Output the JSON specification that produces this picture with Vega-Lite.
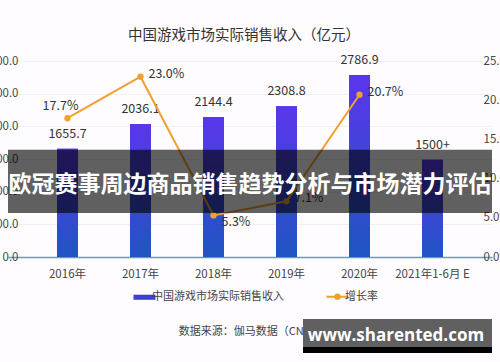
{
  "$schema": "https://vega.github.io/schema/vega-lite/v6.json",
  "width": 484,
  "height": 196,
  "autosize": {"type": "none"},
  "padding": {"left": 8, "top": 61, "right": 8, "bottom": 105},
  "background": "#fefcfe",
  "config": {"font": "Noto Sans CJK SC", "view": {"stroke": null}},
  "title": {"text": "中国游戏市场实际销售收入（亿元）", "fontSize": 14.5, "fontWeight": "normal", "color": "#333", "offset": 10, "dx": -6, "anchor": "middle", "font": "Noto Sans CJK SC"},
  "data": {"values": [
    {"year": "2016年", "revenue": 1655.7, "label": "1655.7", "growth": 0.177},
    {"year": "2017年", "revenue": 2036.1, "label": "2036.1", "growth": 0.23},
    {"year": "2018年", "revenue": 2144.4, "label": "2144.4", "growth": 0.053},
    {"year": "2019年", "revenue": 2308.8, "label": "2308.8", "growth": 0.071},
    {"year": "2020年", "revenue": 2786.9, "label": "2786.9", "growth": 0.207},
    {"year": "2021年1-6月 E", "revenue": 1490, "label": "1500+", "growth": null}
  ]},
  "encoding": {
    "x": {"field": "year", "type": "nominal", "sort": null,
      "scale": {"paddingInner": 0, "paddingOuter": 0.315},
      "axis": {"title": "数据来源：伽马数据（CNG）", "titleFontSize": 11, "titleFontWeight": "normal", "titleColor": "#444", "titlePadding": 46,
        "labelAngle": 0, "labelFontSize": 11.5, "labelColor": "#444", "labelPadding": 11, "ticks": false,
        "domainColor": "#6a9bb0", "domainWidth": 1.5}}
  },
  "layer": [
    {
      "encoding": {
        "y": {"field": "revenue", "type": "quantitative",
          "scale": {"domain": [0, 3000], "nice": false},
          "axis": {"orient": "left", "values": [0, 500, 1000, 1500, 2000, 2500, 3000], "format": ".1f", "title": null,
            "labelFontSize": 11.5, "labelColor": "#444", "labelPadding": -10, "labelAlign": "right", "ticks": false, "domain": false,
            "grid": true, "gridColor": "#f0f0f0"}}
      },
      "layer": [
        {"mark": {"type": "bar", "width": 21},
          "encoding": {"color": {"datum": "中国游戏市场实际销售收入", "type": "nominal",
            "scale": {"domain": ["中国游戏市场实际销售收入", "增长率"], "range": ["#3d3fd6", "#f0a030"]},
            "legend": {"orient": "none", "legendX": 131, "legendY": 230, "direction": "horizontal", "title": null,
              "labelFontSize": 11, "labelColor": "#444", "symbolSize": 484, "labelOffset": 2, "columnPadding": 38, "padding": 0,
              "encode": {"symbols": {"update": {
                "shape": {"signal": "datum.value === '增长率' ? 'M-1,0L1,0M0.2,0A0.2,0.2,0,1,1,-0.2,0A0.2,0.2,0,1,1,0.2,0Z' : 'M-1,-0.23L1,-0.23L1,0.23L-1,0.23Z'"},
                "fill": {"signal": "datum.value === '增长率' ? '#f0a030' : '#3d3fd6'"},
                "stroke": {"signal": "datum.value === '增长率' ? '#f0a030' : '#3d3fd6'"},
                "strokeWidth": {"signal": "datum.value === '增长率' ? 2 : 0"},
                "opacity": {"value": 1}, "fillOpacity": {"value": 1}, "strokeOpacity": {"value": 1}
              }}}}}}},
        {"mark": {"type": "bar", "width": 21,
          "color": {"gradient": "linear", "x1": 0, "y1": 0, "x2": 0, "y2": 1,
            "stops": [{"offset": 0, "color": "#5b36ec"}, {"offset": 1, "color": "#1f55c2"}]}}},
        {"mark": {"type": "text", "dy": -8, "baseline": "bottom", "fontSize": 12.5, "color": "#333"},
          "encoding": {"text": {"field": "label"}}}
      ]
    },
    {
      "encoding": {
        "y": {"field": "growth", "type": "quantitative",
          "scale": {"domain": [0, 0.25], "nice": false},
          "axis": {"orient": "right", "values": [0, 0.05, 0.1, 0.15, 0.2, 0.25], "format": ".1%", "title": null,
            "labelFontSize": 11.5, "labelColor": "#444", "labelPadding": -9, "labelAlign": "left", "ticks": false, "domain": false, "grid": false}}
      },
      "layer": [
        {"mark": {"type": "line", "strokeWidth": 2, "point": {"filled": true, "size": 40}},
          "encoding": {"color": {"datum": "增长率", "type": "nominal"}}},
        {"transform": [{"filter": "datum.year === '2016年'"}],
          "mark": {"type": "text", "dx": -7, "dy": -12, "fontSize": 12.5, "color": "#333"},
          "encoding": {"text": {"field": "growth", "format": ".1%"}}},
        {"transform": [{"filter": "datum.year === '2017年' || datum.year === '2019年' || datum.year === '2020年'"}],
          "mark": {"type": "text", "dx": 8, "dy": -3, "align": "left", "fontSize": 12.5, "color": "#333"},
          "encoding": {"text": {"field": "growth", "format": ".1%"}}},
        {"transform": [{"filter": "datum.year === '2018年'"}],
          "mark": {"type": "text", "dx": 8, "dy": 7, "align": "left", "fontSize": 12.5, "color": "#333"},
          "encoding": {"text": {"field": "growth", "format": ".1%"}}}
      ]
    },
    {
      "transform": [{"filter": "datum.year === '2016年'"}],
      "layer": [
        {"mark": {"type": "rect", "color": "#000", "opacity": 0.62},
          "encoding": {"x": {"value": 0}, "x2": {"value": "width"},
            "y": {"datum": 1640, "type": "quantitative", "scale": {"domain": [0, 3000], "nice": false}, "axis": null},
            "y2": {"datum": 673}}},
        {"mark": {"type": "text", "text": "欧冠赛事周边商品销售趋势分析与市场潜力评估", "fontSize": 23, "fontWeight": "bold", "color": "#ffffff", "font": "Noto Sans CJK SC"},
          "encoding": {"x": {"datum": "2019年", "bandPosition": 0},
            "y": {"datum": 1102, "type": "quantitative", "scale": {"domain": [0, 3000], "nice": false}, "axis": null}}},
        {"mark": {"type": "rect", "color": "#606060"},
          "encoding": {"x": {"datum": "2019年", "bandPosition": 0.726}, "x2": {"value": "width"},
            "y": {"datum": -949, "type": "quantitative", "scale": {"domain": [0, 3000], "nice": false}, "axis": null},
            "y2": {"datum": -1378}}},
        {"mark": {"type": "rect", "color": "#000000"},
          "encoding": {"x": {"datum": "2019年", "bandPosition": 0.726}, "x2": {"value": "width"},
            "y": {"datum": -1378, "type": "quantitative", "scale": {"domain": [0, 3000], "nice": false}, "axis": null},
            "y2": {"datum": -1469}}},
        {"mark": {"type": "text", "text": "www.sharented.com", "fontSize": 17, "fontWeight": "bold", "color": "#ffffff", "font": "Open Sans"},
          "encoding": {"x": {"datum": "2021年1-6月 E", "bandPosition": 0},
            "y": {"datum": -1209, "type": "quantitative", "scale": {"domain": [0, 3000], "nice": false}, "axis": null}}}
      ]
    }
  ],
  "resolve": {"scale": {"y": "independent"}}
}
